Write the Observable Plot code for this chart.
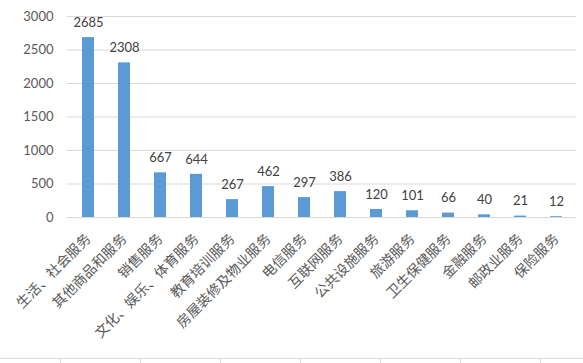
<!DOCTYPE html>
<html>
<head>
<meta charset="utf-8">
<script src="https://cdn.jsdelivr.net/npm/d3@7"></script>
<script src="https://cdn.jsdelivr.net/npm/@observablehq/plot@0.6"></script>
<style>
  html, body { margin: 0; padding: 0; background: #fff; }
  #wrap { position: relative; width: 583px; height: 363px; overflow: hidden; }
  #wrap svg { position: absolute; left: 0; top: 0; }
  .baseline { position: absolute; left: 0; top: 358px; width: 583px; height: 1px; background: #d9d9d9; }
  .btick { position: absolute; top: 358px; width: 1px; height: 6px; background: #d9d9d9; }
</style>
</head>
<body>
<div id="wrap"></div>
<script>
const categories = ["生活、社会服务", "其他商品和服务", "销售服务", "文化、娱乐、体育服务", "教育培训服务", "房屋装修及物业服务", "电信服务", "互联网服务", "公共设施服务", "旅游服务", "卫生保健服务", "金融服务", "邮政业服务", "保险服务"];
const values = [2685, 2308, 667, 644, 267, 462, 297, 386, 120, 101, 66, 40, 21, 12];
const yTicks = [0, 500, 1000, 1500, 2000, 2500, 3000];

const data = categories.map((c, i) => ({category: c, value: values[i]}));

const chart = Plot.plot({
  width: 583,
  height: 363,
  marginTop: 16,
  marginBottom: 146,
  marginLeft: 67,
  marginRight: 7,
  style: {background: "transparent", overflow: "visible"},
  x: {domain: categories, paddingInner: 0.68, paddingOuter: 0.34, label: null},
  y: {domain: [0, 3000], label: null},
  marks: [
    Plot.gridY(yTicks, {stroke: "#d9d9d9", strokeOpacity: 1, strokeWidth: 1}),
    Plot.barY(data, {x: "category", y: "value", fill: "#5b9bd5"}),
    Plot.text(data, {x: "category", y: "value", text: d => String(d.value), dy: -15, fill: "#404040", fontSize: 13, fontFamily: "Lato, 'Liberation Sans', sans-serif"}),
    Plot.axisY(yTicks, {tickSize: 0, tickPadding: 14, tickFormat: d => String(d), fill: "#595959", fontSize: 13, fontFamily: "Lato, 'Liberation Sans', sans-serif", label: null}),
    Plot.axisX({tickSize: 0, tickPadding: 19, tickRotate: -45, fill: "#595959", fontSize: 14, fontFamily: "'Noto Sans CJK SC', sans-serif", label: null})
  ]
});

const wrap = document.getElementById("wrap");
wrap.appendChild(chart);
const base = document.createElement("div");
base.className = "baseline";
wrap.appendChild(base);
[60, 140, 220, 300, 380, 460, 540].forEach(x => {
  const t = document.createElement("div");
  t.className = "btick";
  t.style.left = x + "px";
  wrap.appendChild(t);
});
</script>
</body>
</html>
